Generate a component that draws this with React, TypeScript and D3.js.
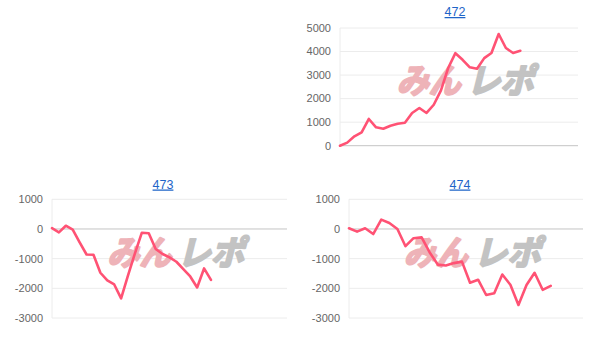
import React from "react";
import * as d3 from "d3";

const titles = ["472", "473", "474"];
const series472 = [0, 130, 400, 570, 1135, 780, 720, 850, 935, 977, 1390, 1600, 1390, 1740, 2350, 3300, 3930, 3650, 3330, 3270, 3720, 3940, 4745, 4150, 3940, 4035];
const series473 = [30, -113, 110, -20, -450, -860, -870, -1475, -1735, -1870, -2340, -1560, -820, -125, -145, -675, -845, -955, -1105, -1350, -1600, -1970, -1330, -1715];
const series474 = [24, -90, 24, -170, 315, 200, 0, -580, -310, -282, -790, -1200, -1230, -1150, -1100, -1810, -1710, -2225, -2165, -1535, -1880, -2560, -1890, -1475, -2050, -1915];
const yTicks472 = [0, 1000, 2000, 3000, 4000, 5000];
const yTicksNeg = [-3000, -2000, -1000, 0, 1000];
const xSlots = [33, 34, 29];

type Panel = {
  title: string;
  data: number[];
  ticks: number[];
  slots: number;
  left: number;
  right: number;
  top: number;
  bottom: number;
  titleX: number;
  titleY: number;
};

const panels: Panel[] = [
  { title: titles[0], data: series472, ticks: yTicks472, slots: xSlots[0], left: 340, right: 578, top: 28, bottom: 145.7, titleX: 455, titleY: 16 },
  { title: titles[1], data: series473, ticks: yTicksNeg, slots: xSlots[1], left: 52, right: 287, top: 199.3, bottom: 318, titleX: 163, titleY: 188.5 },
  { title: titles[2], data: series474, ticks: yTicksNeg, slots: xSlots[2], left: 349, right: 583, top: 199.3, bottom: 318, titleX: 460, titleY: 188.5 },
];

function ChartPanel({ p }: { p: Panel }) {
  const x = d3.scaleLinear().domain([0, p.slots]).range([p.left, p.right]);
  const y = d3
    .scaleLinear()
    .domain([d3.min(p.ticks) as number, d3.max(p.ticks) as number])
    .range([p.bottom, p.top]);
  const line = d3
    .line<number>()
    .x((_, i) => x(i))
    .y((d) => y(d));
  const cx = (p.left + p.right) / 2 + 9;
  const cy = (p.top + p.bottom) / 2 - 7;
  return (
    <g>
      <text
        x={p.titleX}
        y={p.titleY}
        textAnchor="middle"
        fontFamily="Liberation Sans, Arial, sans-serif"
        fontSize={12.5}
        fill="#1e64c8"
        style={{ textDecoration: "underline" }}
      >
        {p.title}
      </text>
      {p.ticks.map((t) => (
        <line
          key={"g" + t}
          x1={p.left}
          x2={p.right}
          y1={y(t)}
          y2={y(t)}
          stroke={t === 0 ? "#c4c4c4" : "#ececec"}
          strokeWidth={1}
        />
      ))}
      <line x1={p.left} x2={p.left} y1={p.top} y2={p.bottom} stroke="#ececec" strokeWidth={1} />
      {p.ticks.map((t) => (
        <text
          key={"t" + t}
          x={p.left - 9}
          y={y(t)}
          dy="0.35em"
          textAnchor="end"
          fontFamily="Liberation Sans, Arial, sans-serif"
          fontSize={11}
          fill="#666"
        >
          {t}
        </text>
      ))}
      <g transform={`translate(${cx},${cy}) skewX(-14)`} fontFamily="Noto Sans CJK JP" fontWeight={700} fontSize={34}>
        <text x={-68} y={13} fill="#eeb3b8" stroke="#eeb3b8" strokeWidth={2.2} strokeLinejoin="round" textLength={64} lengthAdjust="spacingAndGlyphs">
          みん
        </text>
        <text x={2} y={13} fill="#c3c3c3" stroke="#c3c3c3" strokeWidth={2.2} strokeLinejoin="round" textLength={67} lengthAdjust="spacingAndGlyphs">
          レポ
        </text>
      </g>
      <path d={line(p.data) || ""} fill="none" stroke="#ff5274" strokeWidth={2.6} strokeLinejoin="round" strokeLinecap="round" />
    </g>
  );
}

export default function App() {
  return (
    <svg width={609} height={340} style={{ position: "absolute", left: 0, top: 0, background: "#fff" }}>
      {panels.map((p) => (
        <ChartPanel key={p.title} p={p} />
      ))}
    </svg>
  );
}
